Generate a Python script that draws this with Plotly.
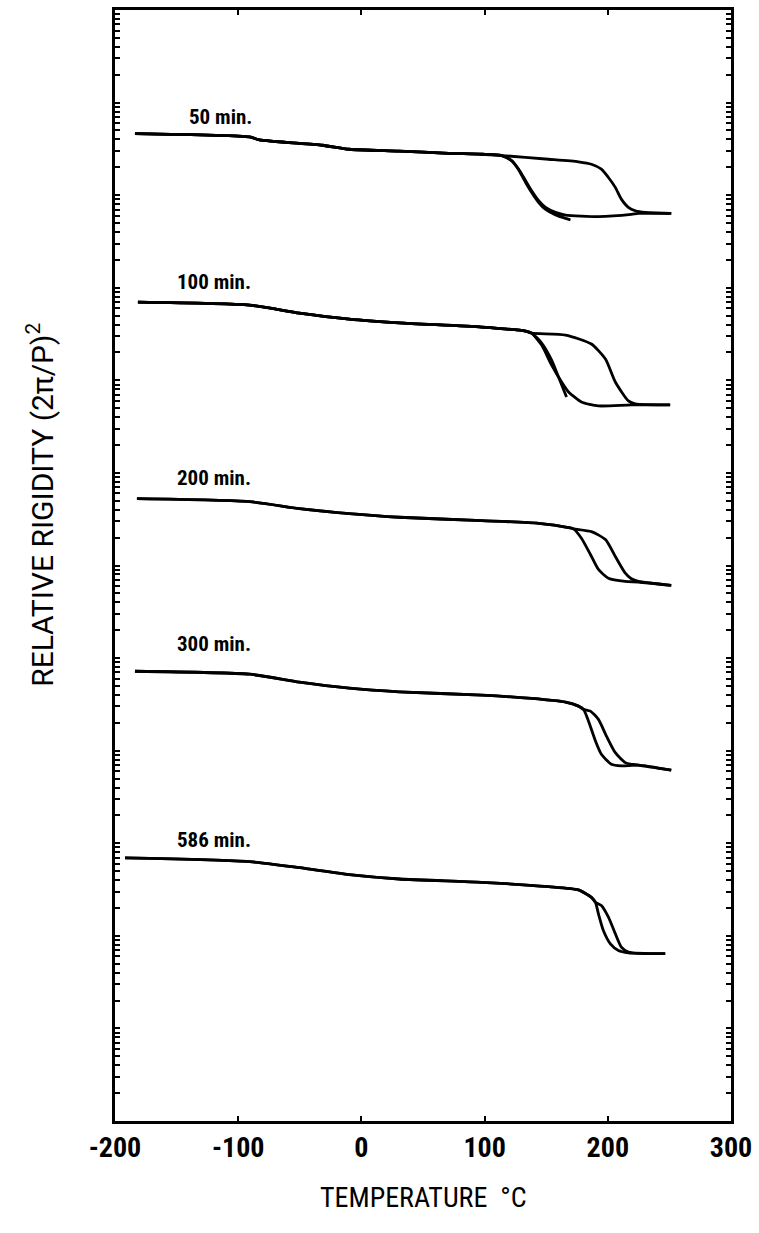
import plotly.graph_objects as go

# Torsional-braid relative rigidity vs temperature for five cure times.
# Values are log10 of relative rigidity (curves offset vertically per cure time).

cure_labels = ["50 min.", "100 min.", "200 min.", "300 min.", "586 min."]

# ---- 50 min ----
t50_stem = [-183.8, -90.8, -82.7, -31.7, -9.9, 30.6, 71.0, 97.7, 113.9]
g50_stem = [10.665, 10.629, 10.597, 10.539, 10.496, 10.476, 10.452, 10.442, 10.428]
t50_a = [151.9, 176.2, 186.7, 194.8, 200.5, 206.1, 211.0, 216.7, 222.3, 230.4, 251.5]
g50_a = [10.388, 10.360, 10.334, 10.281, 10.191, 10.084, 9.957, 9.868, 9.832, 9.814, 9.803]
t50_b = [122.0, 127.7, 133.3, 138.2, 143.9, 149.5, 157.6, 165.7, 192.4, 219.1, 224.8, 251.5]
g50_b = [10.371, 10.280, 10.156, 10.048, 9.940, 9.868, 9.814, 9.785, 9.768, 9.792, 9.803, 9.803]
t50_c = [122.0, 127.7, 133.3, 138.2, 143.9, 149.5, 157.6, 165.7, 169.7]
g50_c = [10.374, 10.271, 10.137, 10.029, 9.921, 9.846, 9.787, 9.749, 9.733]

# ---- 100 min ----
t100_stem = [-181.4, -90.8, -50.3, -9.9, 30.6, 97.7, 133.3, 138.2]
g100_stem = [8.844, 8.812, 8.726, 8.661, 8.621, 8.575, 8.532, 8.510]
t100_a = [165.7, 186.7, 198.1, 206.1, 216.7, 222.3, 250.6]
g100_a = [8.489, 8.392, 8.230, 7.982, 7.778, 7.745, 7.735]
t100_b = [146.3, 154.4, 162.5, 168.1, 178.6, 192.4, 219.1, 250.6]
g100_b = [8.381, 8.165, 7.982, 7.875, 7.767, 7.724, 7.735, 7.735]
t100_c = [146.3, 154.4, 160.0, 166.5]
g100_c = [8.403, 8.219, 8.036, 7.821]

# ---- 200 min ----
t200_stem = [-182.2, -90.8, -50.3, -9.9, 30.6, 97.7, 143.9, 168.1, 172.2]
g200_stem = [6.722, 6.690, 6.614, 6.560, 6.521, 6.485, 6.456, 6.410, 6.396]
t200_a = [186.7, 198.1, 206.1, 214.2, 219.1, 224.8, 251.5]
g200_a = [6.366, 6.280, 6.097, 5.917, 5.857, 5.828, 5.785]
t200_b = [178.6, 185.9, 192.4, 200.5, 214.2, 224.8, 251.5]
g200_b = [6.294, 6.119, 5.957, 5.863, 5.828, 5.822, 5.785]

# ---- 300 min ----
t300_stem = [-183.8, -90.8, -50.3, -9.9, 30.6, 97.7, 138.2, 165.7, 176.2, 180.3]
g300_stem = [4.858, 4.826, 4.740, 4.675, 4.635, 4.600, 4.564, 4.524, 4.481, 4.446]
t300_a = [185.9, 192.4, 198.9, 206.1, 214.2, 224.8, 251.5]
g300_a = [4.427, 4.338, 4.158, 3.978, 3.871, 3.843, 3.789]
t300_b = [184.3, 190.0, 194.8, 202.9, 211.0, 224.8, 251.5]
g300_b = [4.320, 4.104, 3.961, 3.853, 3.835, 3.843, 3.789]

# ---- 586 min ----
t586_stem = [-191.9, -90.8, -50.3, -9.9, 30.6, 97.7, 151.9, 176.2, 186.7, 190.0]
g586_stem = [2.841, 2.801, 2.736, 2.661, 2.614, 2.578, 2.531, 2.496, 2.416, 2.362]
t586_a = [194.8, 200.5, 206.1, 211.0, 216.7, 246.6]
g586_a = [2.328, 2.202, 2.023, 1.879, 1.825, 1.807]
t586_b = [192.4, 196.4, 202.1, 208.6, 216.7, 246.6]
g586_b = [2.237, 2.058, 1.914, 1.842, 1.817, 1.807]

# label anchor (temperature, log10 rigidity) for each cure time
label_t = [-141.7, -151.5, -151.5, -151.5, -151.5]
label_g = [10.84, 9.06, 6.94, 5.15, 3.04]

groups = [
    (t50_stem, g50_stem, [(t50_a, g50_a), (t50_b, g50_b), (t50_c, g50_c)]),
    (t100_stem, g100_stem, [(t100_a, g100_a), (t100_b, g100_b), (t100_c, g100_c)]),
    (t200_stem, g200_stem, [(t200_a, g200_a), (t200_b, g200_b)]),
    (t300_stem, g300_stem, [(t300_a, g300_a), (t300_b, g300_b)]),
    (t586_stem, g586_stem, [(t586_a, g586_a), (t586_b, g586_b)]),
]

fig = go.Figure()
for stem_t, stem_g, branches in groups:
    for bt, bg in branches:
        xs = stem_t + bt
        ys = [10 ** v for v in stem_g + bg]
        fig.add_trace(go.Scatter(
            x=xs, y=ys, mode="lines",
            line=dict(color="black", width=2.8, shape="spline", smoothing=0.6),
            showlegend=False, hoverinfo="skip",
        ))

narrow = "Roboto Condensed, Liberation Sans Narrow, Liberation Sans, Arial, sans-serif"

for txt, lt, lg in zip(cure_labels, label_t, label_g):
    fig.add_annotation(
        x=lt, y=lg, xref="x", yref="y", text="<b>" + txt + "</b>",
        showarrow=False, xanchor="left", yanchor="middle",
        font=dict(family=narrow, size=21, color="black"),
    )

log_ticks = [k * 10 ** n for n in range(12) for k in range(1, 10)] + [10 ** 12]
x_ticks = [-200, -100, 0, 100, 200, 300]

fig.update_xaxes(
    range=[-200, 300], tickvals=x_ticks, ticktext=["<b>%d</b>" % v for v in x_ticks],
    ticks="inside", ticklen=5, tickwidth=1.5, tickcolor="black",
    showline=True, linecolor="black", linewidth=2.5, mirror="allticks",
    showgrid=False, zeroline=False,
    tickfont=dict(family=narrow, size=28, color="black"),
    ticklabelstandoff=0,
)
fig.update_yaxes(
    type="log", range=[0, 12], tickvals=log_ticks, showticklabels=False,
    ticks="inside", ticklen=5, tickwidth=1.5, tickcolor="black",
    showline=True, linecolor="black", linewidth=2.5, mirror="allticks",
    showgrid=False, zeroline=False,
)

fig.add_annotation(
    x=0.5, y=-0.069, xref="paper", yref="paper",
    xanchor="center", yanchor="middle",
    text="TEMPERATURE  °C", showarrow=False,
    font=dict(family=narrow, size=28, color="black"),
)
fig.add_annotation(
    x=-0.121, y=0.555, xref="paper", yref="paper", textangle=-90,
    xanchor="center", yanchor="middle",
    text="RELATIVE RIGIDITY (2π/P)<sup>2</sup>", showarrow=False,
    font=dict(family="Roboto, Liberation Sans, sans-serif", size=30, color="black"),
)

fig.update_layout(
    width=759, height=1233,
    margin=dict(l=115, r=26, t=7, b=112),
    plot_bgcolor="white", paper_bgcolor="white",
)

fig.write_html("out.html")
